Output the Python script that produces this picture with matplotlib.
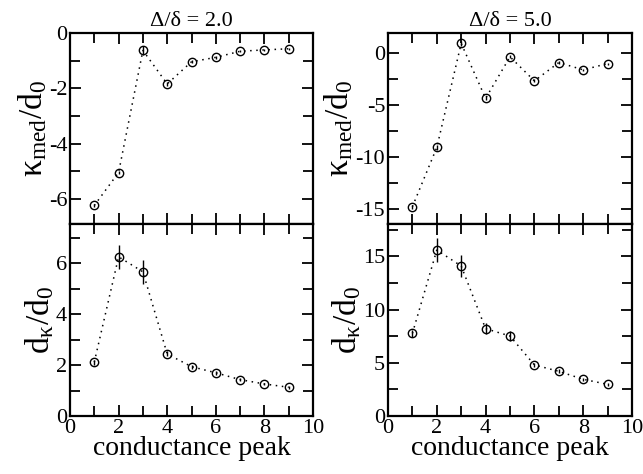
import numpy as np
import matplotlib
matplotlib.use("Agg")
import matplotlib.pyplot as plt
from matplotlib.ticker import MultipleLocator

plt.rcParams["font.family"] = ["Liberation Serif", "DejaVu Serif"]
plt.rcParams["mathtext.fontset"] = "custom"
plt.rcParams["mathtext.rm"] = "Liberation Serif"
plt.rcParams["mathtext.it"] = "Liberation Serif:italic"
plt.rcParams["axes.unicode_minus"] = False

# data
peak = [1, 2, 3, 4, 5, 6, 7, 8, 9]

kmed_2 = [-6.23, -5.04, -0.63, -1.84, -1.04, -0.88, -0.66, -0.61, -0.57]
kmed_2_err = [0.05, 0.05, 0.15, 0.08, 0.05, 0.05, 0.04, 0.04, 0.04]
kmed_5 = [-14.74, -9.07, 0.9, -4.36, -0.38, -2.69, -0.93, -1.63, -1.03]
kmed_5_err = [0.2, 0.2, 0.2, 0.2, 0.15, 0.15, 0.12, 0.12, 0.1]

dk_2 = [2.12, 6.26, 5.67, 2.44, 1.94, 1.70, 1.43, 1.26, 1.13]
dk_2_err = [0.1, 0.46, 0.46, 0.1, 0.08, 0.07, 0.06, 0.05, 0.05]
dk_5 = [7.77, 15.6, 14.1, 8.21, 7.52, 4.80, 4.20, 3.45, 2.98]
dk_5_err = [0.3, 1.1, 1.0, 0.5, 0.5, 0.2, 0.2, 0.15, 0.12]

titles = ["Δ/δ = 2.0", "Δ/δ = 5.0"]

fig = plt.figure(figsize=(6.43, 4.74), dpi=100)
W, H = 643.0, 474.0


def make_ax(x0, x1, ytop, ybot):
    return fig.add_axes([x0 / W, 1 - ybot / H, (x1 - x0) / W, (ybot - ytop) / H])


axes = [
    [make_ax(70, 313, 33, 224), make_ax(388, 632, 33, 224)],
    [make_ax(70, 313, 224, 416), make_ax(388, 632, 224, 416)],
]

panels = [
    [(kmed_2, kmed_2_err, (-6.9, 0), 2, 1), (kmed_5, kmed_5_err, (-16.4, 1.9), 5, 2.5)],
    [(dk_2, dk_2_err, (0, 7.55), 2, 1), (dk_5, dk_5_err, (0, 18.05), 5, 2.5)],
]

for r in range(2):
    for c in range(2):
        ax = axes[r][c]
        y, e, ylim, maj, mnr = panels[r][c]
        ax.plot(peak, y, ls=(0, (1, 3)), color="black", lw=1.1)
        ax.errorbar(peak, y, yerr=e, fmt="o", mfc="none", mec="black",
                    ecolor="black", ms=6, mew=1.0, elinewidth=1.0, capsize=0)
        ax.set_xlim(0, 10)
        ax.set_ylim(*ylim)
        ax.xaxis.set_major_locator(MultipleLocator(2))
        ax.xaxis.set_minor_locator(MultipleLocator(1))
        ax.yaxis.set_major_locator(MultipleLocator(maj))
        ax.yaxis.set_minor_locator(MultipleLocator(mnr))
        ax.tick_params(which="both", direction="in", top=True, right=True,
                       width=1.3, labelsize=16, pad=2)
        ax.tick_params(which="major", length=8)
        ax.tick_params(which="minor", length=7)
        for s in ax.spines.values():
            s.set_linewidth(1.6)
        if r == 0:
            ax.tick_params(labelbottom=False)
            ax.set_ylabel(r"$\mathrm{κ_{med}/d_0}$", fontsize=24, labelpad=0)
            ax.set_title(titles[c], fontsize=16, pad=5)
        else:
            ax.set_xlabel("conductance peak", fontsize=20, labelpad=-1)
            ax.set_ylabel(r"$\mathrm{d_κ/d_0}$", fontsize=24, labelpad=0)

fig.savefig("out.png", dpi=100)
